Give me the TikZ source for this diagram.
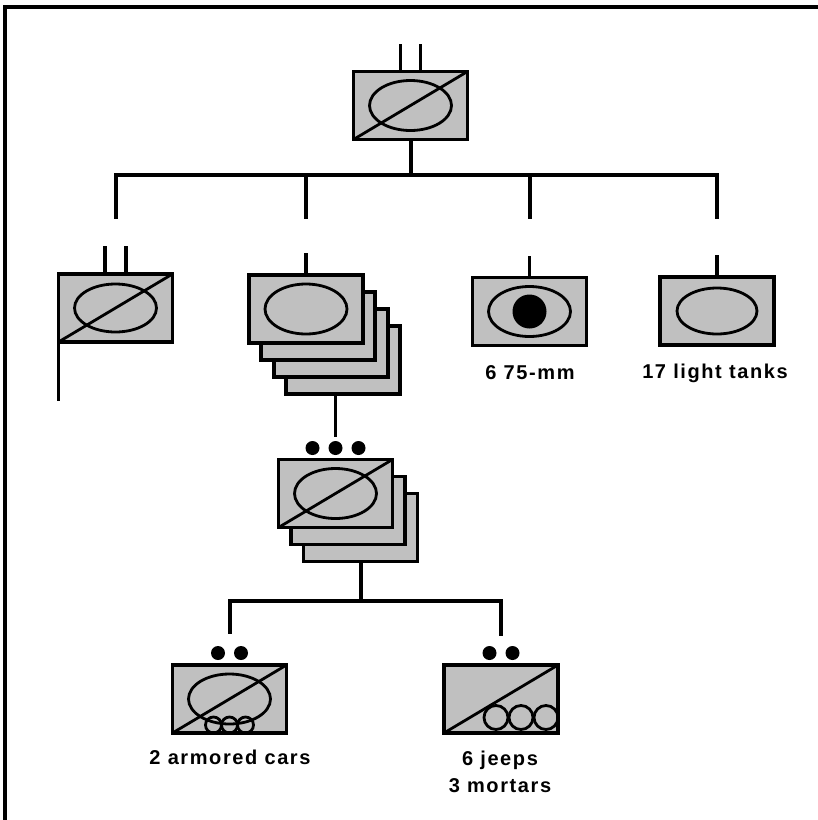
\documentclass[tikz,border=0pt]{standalone}
\usepackage{fontspec}
\setmainfont{Liberation Sans}
\newfontfamily\lblfont[LetterSpace=8]{Liberation Sans}
\usetikzlibrary{positioning}
\definecolor{boxgray}{RGB}{192,192,192}
\tikzset{
  unit/.style={draw, line width=3.8pt, fill=boxgray, minimum width=114pt, minimum height=68pt, inner sep=0pt, outer sep=0pt},
  conn/.style={line width=4pt},
  stem/.style={line width=3.3pt},
  sym/.style={line width=2.8pt},
  lbl/.style={font=\lblfont\bfseries\fontsize{20}{27}\selectfont, inner sep=0pt, align=center}
}
\begin{document}
\begin{tikzpicture}[x=1pt,y=-1pt]
  \useasboundingbox (0,0) rectangle (818,820);
  \draw[line width=4pt] (5,820) -- (5,6.5) -- (818,6.5);
  % headquarters
  \node[unit] (hq) at (410.5,105.5) {};
  \draw[sym] (hq) ellipse [x radius=41pt, y radius=25pt];
  \draw[sym] (hq.south west) -- (hq.north east);
  \foreach \dx in {-10,10} \draw[stem] (hq.north) ++(\dx,0) -- ++(0,-28);
  % second row
  \node[unit] (cmd) at (115.5,308) {};
  \foreach \i in {3,2,1} \node[unit] (med\i) at ({306+12.3*\i},{309+17*\i}) {};
  \node[unit] (med) at (306,309) {};
  \node[unit] (gun) at (529.5,311.5) {};
  \node[unit] (lt) at (717,311) {};
  \draw[sym] (cmd) ellipse [x radius=41pt, y radius=24pt];
  \draw[sym] (cmd.south west) -- (cmd.north east);
  \foreach \dx in {-10.5,10.5} \draw[stem] (cmd.north) ++(\dx,0) -- ++(0,-28);
  \draw[stem] (cmd.south west) ++(0,-5) -- ++(0,64);
  \draw[sym] (med) ellipse [x radius=41pt, y radius=25pt];
  \draw[sym] (gun) ellipse [x radius=41pt, y radius=25pt];
  \fill (gun) circle (17pt);
  \draw[sym] (lt) ellipse [x radius=40pt, y radius=23pt];
  \foreach \n in {med,gun,lt} \draw[stem] (\n.north) -- ++(0,-22);
  \node[lbl] (gunlbl) at (530,373) {6 75-mm};
  \node[lbl] (ltlbl) at (715,373) {17 light tanks};
  % bus to second row
  \draw[conn] (hq.south) -- ++(0,35) coordinate (bus);
  \draw[conn] (cmd.north |- bus) ++(0,44) -- ++(0,-44) -- (lt.north |- bus) -- ++(0,44);
  \foreach \n in {med,gun} \draw[conn] (\n.north |- bus) -- ++(0,44);
  % platoon
  \foreach \i in {2,1} \node[unit] (plt\i) at ({335.5+12.5*\i},{493.5+17*\i}) {};
  \node[unit] (plt) at (335.5,493.5) {};
  \draw[sym] (plt) ellipse [x radius=41pt, y radius=25pt];
  \draw[sym] (plt.south west) -- (plt.north east);
  \foreach \dx in {-23,0,23} \fill (plt.north) ++(\dx,-11.5) circle (7pt);
  \draw[stem] (plt.north |- med3.south) -- ++(0,43);
  % sections
  \node[unit] (ac) at (229.5,699) {};
  \node[unit] (mort) at (501,699) {};
  \draw[sym] (ac) ellipse [x radius=41pt, y radius=25pt];
  \draw[sym] (ac.south west) -- (ac.north east);
  \foreach \dx in {-16,0,16} \draw[sym] (ac.center) ++(\dx,26) circle (8pt);
  \draw[sym] (mort.south west) -- (mort.north east);
  \foreach \dx in {-5,20,45} \draw[sym] (mort.center) ++(\dx,18.5) circle (12pt);
  \foreach \n in {ac,mort} \foreach \dx in {-11.5,11.5} \fill (\n.north) ++(\dx,-12) circle (7pt);
  \node[lbl] (aclbl) at (230,757) {2 armored cars};
  \node[lbl] (mortlbl) at (500,771.5) {6 jeeps\\3 mortars};
  % bus to sections
  \draw[conn] (plt2.south) -- ++(0,39) coordinate (bus2);
  \draw[conn] (ac.north |- bus2) ++(0,33) -- ++(0,-33) -- (mort.north |- bus2) -- ++(0,35);
\end{tikzpicture}
\end{document}
